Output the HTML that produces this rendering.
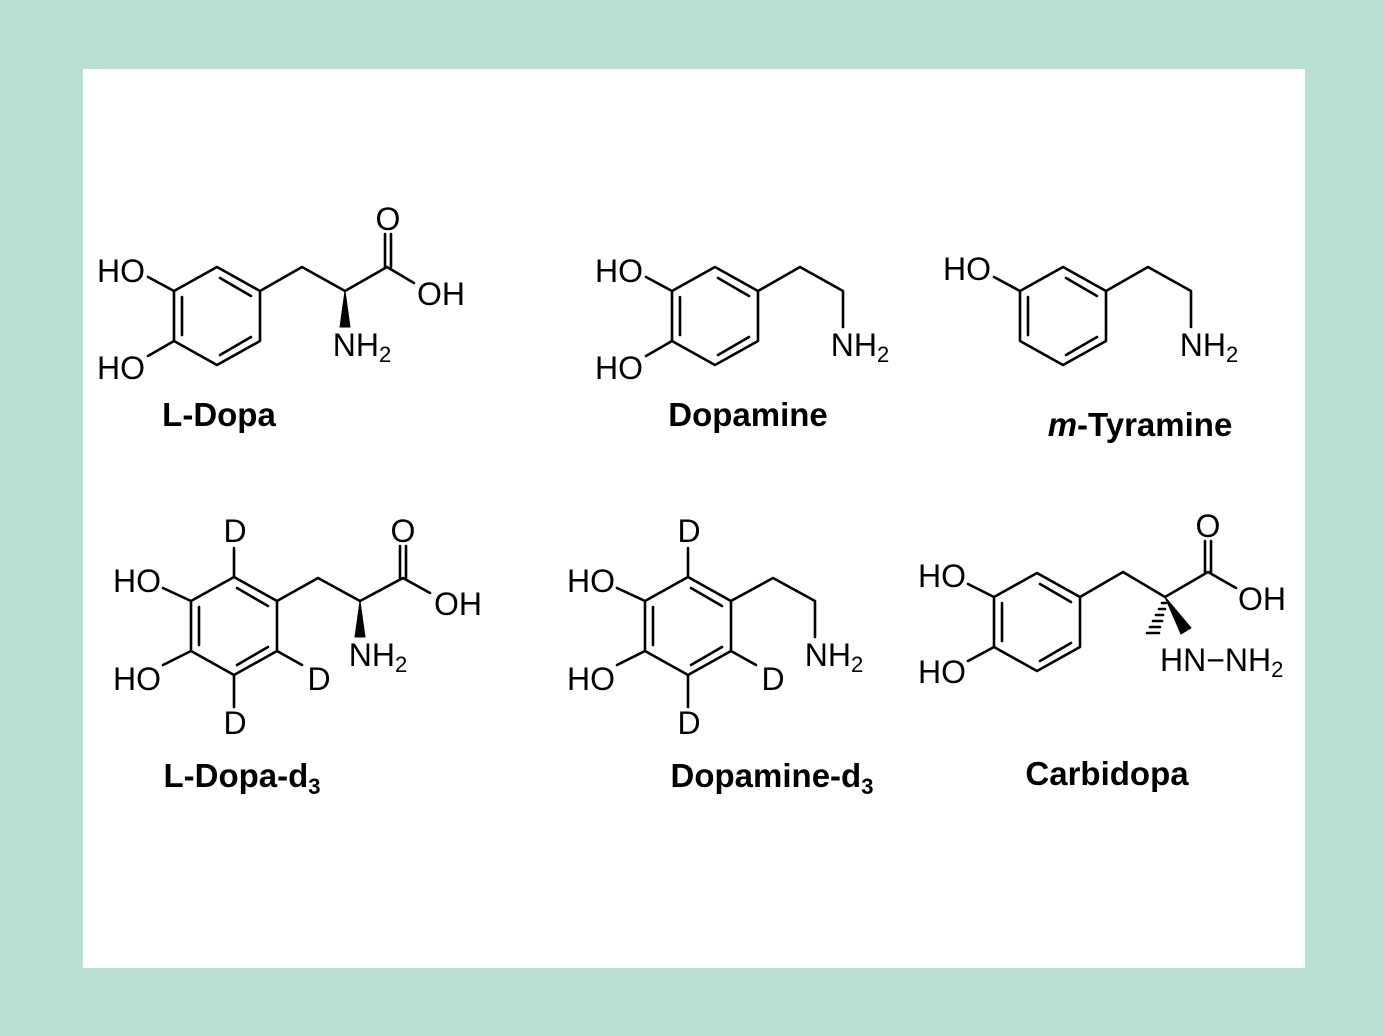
<!DOCTYPE html>
<html><head><meta charset="utf-8"><style>
html,body{margin:0;padding:0;background:#b8dfcf;}
svg{display:block}
text{font-family:"Liberation Sans",sans-serif;fill:#000}
.a{font-size:32px;text-anchor:middle}
.l{font-size:33px;font-weight:bold;text-anchor:middle}
line,polygon,polyline{stroke:#000;stroke-width:2.6;fill:none;stroke-linecap:round;stroke-linejoin:round}
polygon.w{fill:#000;stroke-width:1}
</style></head><body>
<svg width="1384" height="1036" viewBox="0 0 1384 1036">
<rect x="0" y="0" width="1384" height="1036" fill="#b8dfcf" style="stroke:none"/>
<rect x="83" y="69" width="1222" height="899" fill="#fff" style="stroke:none"/>

<!-- L-Dopa -->
<g>
<polygon points="217,267 260,291 260,341 217,365 174,341 174,291"/>
<line x1="182" y1="297" x2="182" y2="335"/>
<line x1="220" y1="278" x2="251" y2="296"/>
<line x1="220" y1="355" x2="251" y2="337"/>
<line x1="148" y1="277" x2="174" y2="291"/>
<line x1="148" y1="356" x2="174" y2="341"/>
<polyline points="260,291 302,267 345,291 387,267 414,283"/>
<line x1="385" y1="267" x2="385" y2="234"/><line x1="391" y1="267" x2="391" y2="234"/>
<polygon class="w" points="345,291 340,327 350,327"/>
<text class="a" x="121" y="282">HO</text>
<text class="a" x="121" y="379">HO</text>
<text class="a" x="388" y="230">O</text>
<text class="a" x="441" y="305">OH</text>
<text class="a" x="362" y="356">NH<tspan font-size="22" dy="6">2</tspan></text>
<text class="l" x="219" y="426">L-Dopa</text>
</g>

<!-- Dopamine -->
<g>
<polygon points="715,267 758,291 758,341 715,365 672,341 672,291"/>
<line x1="680" y1="297" x2="680" y2="335"/>
<line x1="718" y1="278" x2="749" y2="296"/>
<line x1="718" y1="355" x2="749" y2="337"/>
<line x1="646" y1="277" x2="672" y2="291"/>
<line x1="646" y1="356" x2="672" y2="341"/>
<polyline points="758,291 800,267 843,291 843,327"/>
<text class="a" x="619" y="282">HO</text>
<text class="a" x="619" y="379">HO</text>
<text class="a" x="860" y="356">NH<tspan font-size="22" dy="6">2</tspan></text>
<text class="l" x="748" y="426">Dopamine</text>
</g>

<!-- m-Tyramine -->
<g>
<polygon points="1063,267 1106,291 1106,341 1063,365 1020,341 1020,291"/>
<line x1="1028" y1="297" x2="1028" y2="335"/>
<line x1="1066" y1="278" x2="1097" y2="296"/>
<line x1="1066" y1="355" x2="1097" y2="337"/>
<line x1="994" y1="277" x2="1020" y2="291"/>
<polyline points="1106,291 1148,267 1191,291 1191,327"/>
<text class="a" x="967" y="280">HO</text>
<text class="a" x="1209" y="356">NH<tspan font-size="22" dy="6">2</tspan></text>
<text class="l" x="1140" y="436"><tspan font-style="italic">m</tspan>-Tyramine</text>
</g>

<!-- L-Dopa-d3 -->
<g>
<polygon points="234,577 277,601 277,651 234,675 191,651 191,601"/>
<line x1="199" y1="607" x2="199" y2="645"/>
<line x1="237" y1="588" x2="268" y2="606"/>
<line x1="237" y1="665" x2="268" y2="647"/>
<line x1="163" y1="588" x2="191" y2="601"/>
<line x1="163" y1="665" x2="191" y2="651"/>
<line x1="234" y1="577" x2="234" y2="548"/>
<line x1="277" y1="651" x2="302" y2="665"/>
<line x1="234" y1="675" x2="234" y2="707"/>
<polyline points="277,601 318,578 360,601 403,578 430,593"/>
<line x1="400" y1="578" x2="400" y2="546"/><line x1="406" y1="578" x2="406" y2="546"/>
<polygon class="w" points="360,601 355,637 365,637"/>
<text class="a" x="137" y="592">HO</text>
<text class="a" x="137" y="690">HO</text>
<text class="a" x="235" y="542">D</text>
<text class="a" x="319" y="690">D</text>
<text class="a" x="235" y="734">D</text>
<text class="a" x="403" y="542">O</text>
<text class="a" x="458" y="615">OH</text>
<text class="a" x="378" y="666">NH<tspan font-size="22" dy="6">2</tspan></text>
<text class="l" x="242" y="787">L-Dopa-d<tspan font-size="22" dy="7">3</tspan></text>
</g>

<!-- Dopamine-d3 -->
<g>
<polygon points="688,577 731,601 731,651 688,675 645,651 645,601"/>
<line x1="653" y1="607" x2="653" y2="645"/>
<line x1="691" y1="588" x2="722" y2="606"/>
<line x1="691" y1="665" x2="722" y2="647"/>
<line x1="617" y1="588" x2="645" y2="601"/>
<line x1="617" y1="665" x2="645" y2="651"/>
<line x1="688" y1="577" x2="688" y2="548"/>
<line x1="731" y1="651" x2="756" y2="665"/>
<line x1="688" y1="675" x2="688" y2="707"/>
<polyline points="731,601 773,578 815,601 815,637"/>
<text class="a" x="591" y="592">HO</text>
<text class="a" x="591" y="690">HO</text>
<text class="a" x="689" y="542">D</text>
<text class="a" x="773" y="690">D</text>
<text class="a" x="689" y="734">D</text>
<text class="a" x="834" y="666">NH<tspan font-size="22" dy="6">2</tspan></text>
<text class="l" x="772" y="787">Dopamine-d<tspan font-size="22" dy="7">3</tspan></text>
</g>

<!-- Carbidopa -->
<g>
<polygon points="1037,573 1080,597 1080,647 1037,671 994,647 994,597"/>
<line x1="1002" y1="603" x2="1002" y2="641"/>
<line x1="1040" y1="584" x2="1071" y2="602"/>
<line x1="1040" y1="661" x2="1071" y2="643"/>
<line x1="968" y1="584" x2="994" y2="597"/>
<line x1="968" y1="661" x2="994" y2="647"/>
<polyline points="1080,597 1123,572 1165,597 1208,572 1236,588"/>
<line x1="1205" y1="572" x2="1205" y2="541"/><line x1="1211" y1="572" x2="1211" y2="541"/>
<polygon class="w" points="1165,597 1181,634 1191,628"/>
<g stroke-width="1.6">
<line x1="1162" y1="603" x2="1166" y2="603"/>
<line x1="1159" y1="609" x2="1165" y2="609"/>
<line x1="1156" y1="615" x2="1163" y2="615"/>
<line x1="1153" y1="621" x2="1162" y2="621"/>
<line x1="1150" y1="627" x2="1160" y2="627"/>
<line x1="1147" y1="633" x2="1159" y2="633"/>
</g>
<text class="a" x="942" y="587">HO</text>
<text class="a" x="942" y="683">HO</text>
<text class="a" x="1208" y="537">O</text>
<text class="a" x="1262" y="610">OH</text>
<text style="font-size:32px" x="1160" y="671">HN−NH<tspan font-size="22" dy="6">2</tspan></text>
<text class="l" x="1107" y="785">Carbidopa</text>
</g>
</svg>
</body></html>
